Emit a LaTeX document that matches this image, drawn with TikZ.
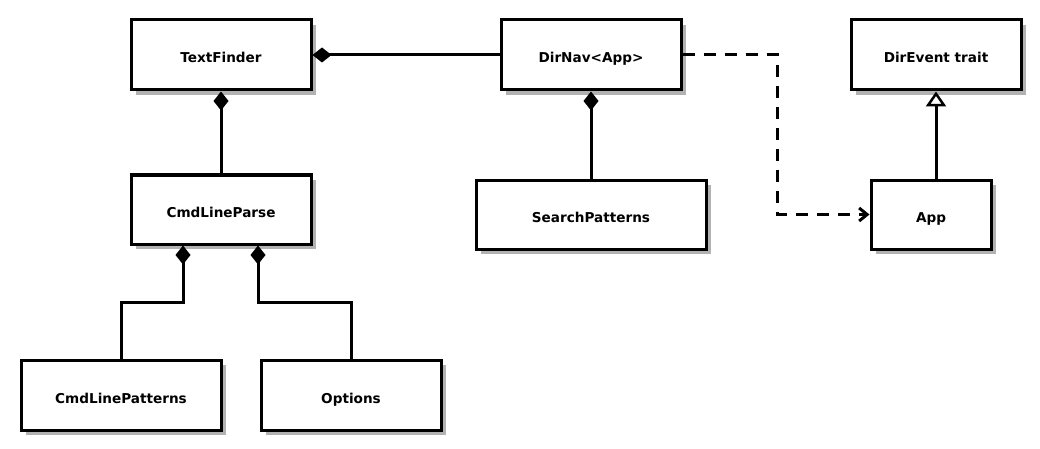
\documentclass[tikz,border=0pt]{standalone}
\usepackage{fontspec}
\setmainfont{DejaVu Sans}
\usetikzlibrary{arrows.meta,shadows}
\newcommand{\cl}[1]{\raisebox{-8pt}[0pt][0pt]{#1}}
\begin{document}
\begin{tikzpicture}[x=1pt,y=-1pt,
  cls/.style={draw=black, line width=3pt, fill=white, inner sep=0pt,
    font=\fontsize{13.6}{16}\selectfont\bfseries,
    drop shadow={shadow xshift=5pt, shadow yshift=-5pt, fill=black!30, opacity=1}},
  conn/.style={line width=3pt},
  comp/.style={conn, {Diamond[length=19pt,width=15pt]}-},
  dep/.style={conn, dash pattern=on 12pt off 9pt, -{Straight Barb[length=8pt,width=13pt,line width=3pt]}},
  inh/.style={conn, -{Triangle[open,length=15pt,width=20pt,line width=2.5pt,fill=white]}}]
\useasboundingbox (0,0) rectangle (1040,449);
\node[cls, minimum width=180pt, minimum height=70pt] (tf) at (221,55) {\cl{TextFinder}};
\node[cls, minimum width=180pt, minimum height=70pt] (dn) at (591,55) {\cl{DirNav<App>}};
\node[cls, minimum width=170pt, minimum height=70pt] (de) at (936,55) {\cl{DirEvent trait}};
\node[cls, minimum width=180pt, minimum height=69pt] (clp) at (221,209.5) {\cl{CmdLineParse}};
\node[cls, minimum width=230pt, minimum height=69pt] (sp) at (591,214.5) {\cl{SearchPatterns}};
\node[cls, minimum width=120pt, minimum height=69pt] (app) at (931,214.5) {\cl{App}};
\node[cls, minimum width=200pt, minimum height=70pt] (cp) at (121,395) {\cl{CmdLinePatterns}};
\node[cls, minimum width=180pt, minimum height=70pt] (op) at (351,395) {\cl{Options}};
\draw[comp] (tf.east) -- (dn.west);
\draw[comp] (tf.south) -- (clp.north);
\draw[comp] (dn.south) -- (sp.north);
\draw[comp] ([xshift=-38pt]clp.south) -- ++(0,57) -| (cp.north);
\draw[comp] ([xshift=37pt]clp.south) -- ++(0,57) -| (op.north);
\draw[dep] (dn.east) -- ++(95,0) |- (app.west);
\draw[inh] (app.north -| de.south) -- (de.south);
\end{tikzpicture}
\end{document}
